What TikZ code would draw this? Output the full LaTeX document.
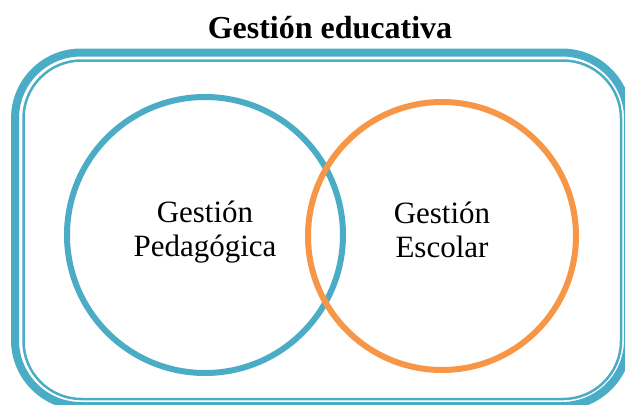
\documentclass[tikz,border=0pt]{standalone}
\usepackage{fontspec}
\setmainfont{Liberation Serif}
\definecolor{frameblue}{HTML}{4BACC6}
\definecolor{ringorange}{HTML}{F79646}
\tikzset{
  ring/.style={circle, draw, line width=6pt, inner sep=0pt, align=center,
    font=\fontsize{31pt}{34pt}\selectfont},
  outerframe/.style={draw=frameblue, line width=8pt, rounded corners=66pt},
  innerframe/.style={draw=frameblue, line width=2.5pt, rounded corners=58pt},
}
\newcommand{\lowpad}{\rule[-13pt]{0pt}{13pt}}
\begin{document}
\begin{tikzpicture}[x=1pt,y=-1pt]
\useasboundingbox (0,0) rectangle (625,405);
\begin{scope}
\clip (0,0) rectangle (625,405);
\draw[outerframe] (15,52.5) rectangle (628,406);
\draw[innerframe] (23.5,60.5) rectangle (621,399);
\end{scope}
\node[font=\fontsize{32pt}{36pt}\selectfont\bfseries, anchor=base] (title) at (330,38) {Gestión educativa};
\node[ring, draw=frameblue, minimum size=276pt] (gp) at (205,235) {Gestión\\Pedagógica\lowpad};
\node[ring, draw=ringorange, minimum size=268pt] (ge) at (442,236) {Gestión\\Escolar\lowpad};
\end{tikzpicture}
\end{document}
